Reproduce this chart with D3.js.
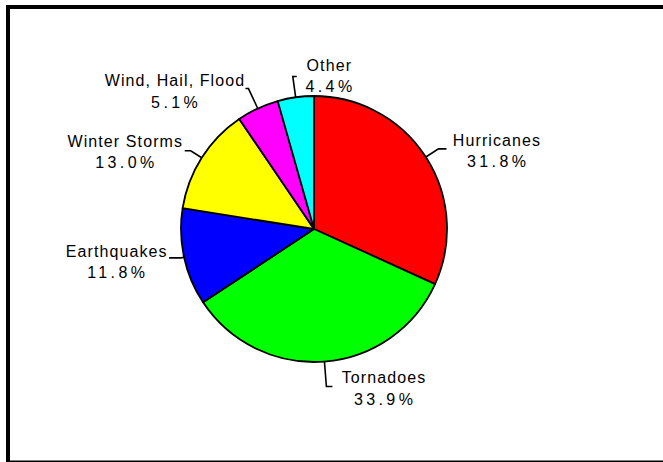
<!DOCTYPE html>
<html>
<head>
<meta charset="utf-8">
<script src="https://cdn.jsdelivr.net/npm/d3@7"></script>
<style>
  html, body { margin: 0; padding: 0; background: #fff; overflow: hidden; }
  svg { display: block; overflow: hidden; }
  text { font-family: "Liberation Sans", Arial, sans-serif; font-size: 16px; fill: #000; }
</style>
</head>
<body>
<svg id="chart" width="663" height="462"></svg>
<script>
// ---- data ----
const categories = ["Hurricanes", "Tornadoes", "Earthquakes", "Winter Storms", "Wind, Hail, Flood", "Other"];
const values = [31.8, 33.9, 11.8, 13.0, 5.1, 4.4];
const percentLabels = ["31.8%", "33.9%", "11.8%", "13.0%", "5.1%", "4.4%"];
const colors = ["#ff0000", "#00ff00", "#0000ff", "#ffff00", "#ff00ff", "#00ffff"];

// ---- label layout (leader elbow extension, horizontal run, text offsets) ----
const labelLayout = [
  { ext: 15, h: 8,   tx: 50,  ty: -3 },
  { ext: 25, h: 6,   tx: 51,  ty: -3.5 },
  { ext: 3,  h: -12, tx: -53, ty: -1 },
  { ext: 13, h: -6,  tx: -60, ty: -4 },
  { ext: 22, h: -3,  tx: -71, ty: -2.5 },
  { ext: 21, h: 4,   tx: 32,  ty: -5.5 }
];

const svg = d3.select("#chart");
const W = 663, H = 462;
svg.append("rect").attr("x", 0).attr("y", 0).attr("width", W).attr("height", H).attr("fill", "#fff");

// frame: top, left and bottom edges (the right edge lies outside the picture)
const frame = [[[6, 7], [W, 7]], [[8, 5], [8, H]], [[6, 461.5], [W, 461.5]]];
const frameW = [4, 4, 2];
frame.forEach((seg, i) => {
  svg.append("path").attr("d", d3.line()(seg))
    .attr("stroke", "#000").attr("stroke-width", frameW[i]).attr("fill", "none");
});

const cx = 314, cy = 229, r = 133;
const g = svg.append("g").attr("transform", `translate(${cx},${cy})`);

const data = categories.map((c, i) => ({ name: c, value: values[i], pct: percentLabels[i], color: colors[i], lay: labelLayout[i] }));
const pie = d3.pie().value(d => d.value).sort(null);
const arc = d3.arc().innerRadius(0).outerRadius(r);
const arcs = pie(data);

g.selectAll("path.slice").data(arcs).enter().append("path")
  .attr("class", "slice")
  .attr("d", arc)
  .attr("fill", d => d.data.color)
  .attr("stroke", "#000")
  .attr("stroke-width", 1.8)
  .attr("stroke-linejoin", "round");

// leaders and labels
arcs.forEach(d => {
  const a = (d.startAngle + d.endAngle) / 2;
  const L = d.data.lay;
  const p0 = [r * Math.sin(a), -r * Math.cos(a)];
  const p1 = [(r + L.ext) * Math.sin(a), -(r + L.ext) * Math.cos(a)];
  const p2 = [p1[0] + L.h, p1[1]];
  g.append("path")
    .attr("d", d3.line()([p0, p1, p2]))
    .attr("fill", "none").attr("stroke", "#000").attr("stroke-width", 1.6);
  const tx = p2[0] + L.tx, ty = p2[1] + L.ty;
  g.append("text")
    .attr("x", tx).attr("y", ty)
    .attr("dx", 0.55)
    .attr("text-anchor", "middle")
    .style("letter-spacing", "1.1px")
    .text(d.data.name);
  g.append("text")
    .attr("x", tx).attr("y", ty + 21.5)
    .attr("dx", 1.7)
    .attr("text-anchor", "middle")
    .style("letter-spacing", "3.4px")
    .text(d.data.pct);
});
</script>
</body>
</html>
